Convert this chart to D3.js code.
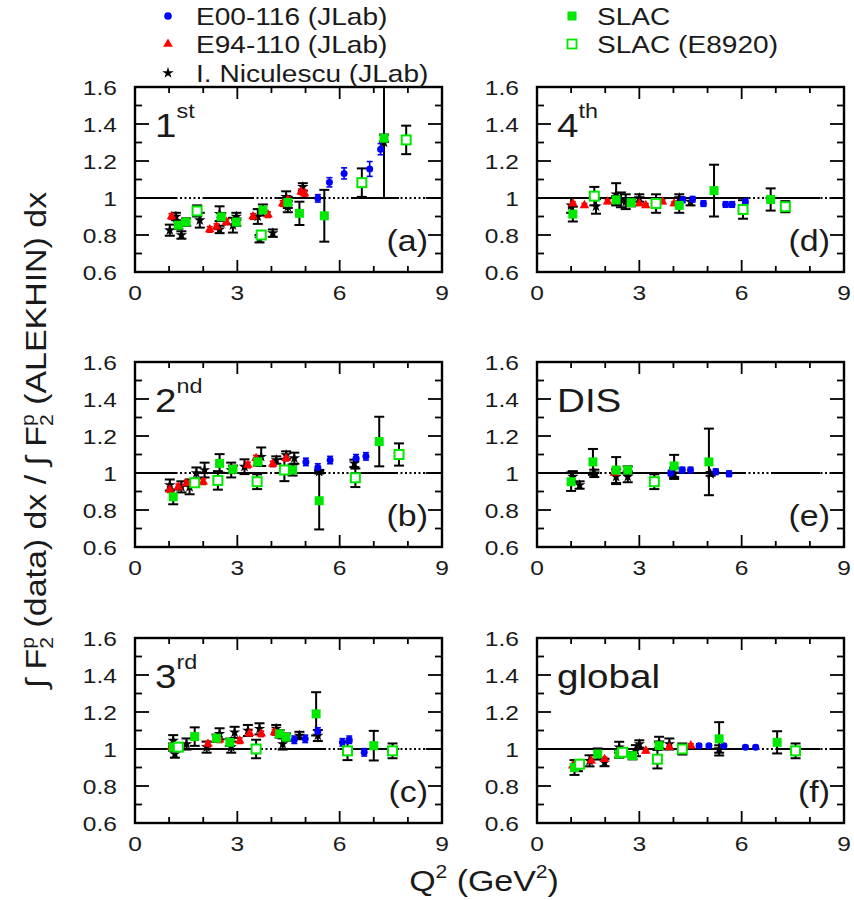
<!DOCTYPE html>
<html>
<head>
<meta charset="utf-8">
<script src="https://cdn.jsdelivr.net/npm/d3@7"></script>
<style>
  body { margin: 0; background: #fff; }
  svg { display: block; font-family: "Liberation Sans", Arial, sans-serif; }
</style>
</head>
<body>
<svg id="chart" width="854" height="900"></svg>
<script>
// panels, in reading order of the figure
var panelKeys = ["a", "b", "c", "d", "e", "f"];
var panelMain = ["1", "2", "3", "4", "DIS", "global"];
var panelSup  = ["st", "nd", "rd", "th", "", ""];

var xTicks = [0, 3, 6, 9];
var yTicks = [0.6, 0.8, 1, 1.2, 1.4, 1.6];

// each point: [panel, Q2, ratio, error]
var e00116 = [
    ["a", 5.36, 0.998, 0.02], ["a", 5.70, 1.085, 0.025], ["a", 6.13, 1.133, 0.03], ["a", 6.88, 1.157, 0.04], ["a", 7.20, 1.264, 0.03],
    ["b", 5.01, 1.06, 0.02], ["b", 5.36, 1.03, 0.02], ["b", 5.72, 1.07, 0.02], ["b", 6.48, 1.08, 0.02], ["b", 6.77, 1.09, 0.02],
    ["c", 4.67, 1.05, 0.02], ["c", 4.99, 1.055, 0.02], ["c", 5.36, 1.095, 0.02], ["c", 6.08, 1.036, 0.02], ["c", 6.28, 1.05, 0.02], ["c", 6.72, 0.982, 0.02],
    ["d", 4.27, 0.99, 0.015], ["d", 4.56, 0.993, 0.015], ["d", 4.88, 0.97, 0.015], ["d", 5.53, 0.965, 0.015], ["d", 5.72, 0.965, 0.015], ["d", 6.11, 0.98, 0.015],
    ["e", 3.92, 1.0, 0.015], ["e", 4.26, 1.016, 0.015], ["e", 4.50, 1.016, 0.015], ["e", 5.24, 1.007, 0.015], ["e", 5.63, 0.996, 0.015],
    ["f", 4.75, 1.018, 0.01], ["f", 5.04, 1.018, 0.01], ["f", 5.48, 1.018, 0.01], ["f", 6.11, 1.009, 0.01], ["f", 6.41, 1.009, 0.01]
];

var e94110 = [
    ["a", 1.07, 0.90, 0.015], ["a", 2.19, 0.83, 0.015], ["a", 2.39, 0.845, 0.015], ["a", 2.68, 0.87, 0.015], ["a", 3.46, 0.90, 0.015],
    ["a", 3.90, 0.91, 0.015], ["a", 4.33, 0.97, 0.015], ["a", 4.48, 0.99, 0.015], ["a", 4.87, 1.034, 0.015], ["a", 4.97, 1.025, 0.015],
    ["b", 1.02, 0.91, 0.015], ["b", 1.27, 0.925, 0.015], ["b", 1.51, 0.944, 0.015], ["b", 2.00, 0.953, 0.015], ["b", 3.31, 1.043, 0.015],
    ["b", 3.55, 1.08, 0.015], ["b", 4.04, 1.049, 0.015], ["b", 4.43, 1.08, 0.015],
    ["c", 1.07, 1.01, 0.015], ["c", 2.14, 1.027, 0.015], ["c", 2.48, 1.05, 0.015], ["c", 3.07, 1.045, 0.015], ["c", 3.36, 1.085, 0.015],
    ["c", 3.70, 1.082, 0.015], ["c", 4.09, 1.09, 0.015],
    ["d", 1.05, 0.97, 0.01], ["d", 1.39, 0.96, 0.01], ["d", 2.07, 0.98, 0.01], ["d", 3.00, 0.97, 0.01], ["d", 3.19, 0.96, 0.01],
    ["d", 3.68, 0.98, 0.01], ["d", 4.02, 0.97, 0.01],
    ["e", 2.27, 1.0, 0.01],
    ["f", 1.05, 0.91, 0.01], ["f", 1.59, 0.936, 0.01], ["f", 1.98, 0.945, 0.01], ["f", 3.19, 0.99, 0.01], ["f", 3.88, 1.009, 0.01], ["f", 4.51, 1.018, 0.01]
];

var niculescu = [
    ["a", 1.02, 0.826, 0.03], ["a", 1.36, 0.80, 0.02], ["a", 1.20, 0.90, 0.02], ["a", 1.90, 0.88, 0.04], ["a", 2.48, 0.915, 0.04],
    ["a", 2.48, 0.83, 0.02], ["a", 2.87, 0.853, 0.04], ["a", 2.97, 0.90, 0.02], ["a", 3.60, 0.90, 0.04], ["a", 3.65, 0.78, 0.02],
    ["a", 4.04, 0.81, 0.02], ["a", 4.43, 1.006, 0.03], ["a", 4.48, 0.953, 0.03], ["a", 4.92, 1.06, 0.02], ["a", 7.30, 1.30, 0.30],
    ["b", 1.02, 0.935, 0.03], ["b", 1.36, 0.925, 0.03], ["b", 1.60, 0.925, 0.04], ["b", 1.80, 1.0, 0.03], ["b", 2.04, 1.016, 0.04],
    ["b", 2.82, 1.016, 0.04], ["b", 3.21, 1.034, 0.04], ["b", 3.70, 1.088, 0.05], ["b", 4.14, 1.07, 0.02], ["b", 4.43, 1.097, 0.02],
    ["b", 4.67, 1.08, 0.03], ["b", 5.40, 1.007, 0.01], ["b", 6.43, 1.052, 0.02],
    ["c", 1.12, 1.045, 0.03], ["c", 1.17, 0.973, 0.02], ["c", 1.51, 1.027, 0.03], ["c", 2.10, 1.01, 0.03], ["c", 2.48, 1.082, 0.03],
    ["c", 2.82, 1.01, 0.03], ["c", 2.92, 1.09, 0.03], ["c", 3.31, 1.10, 0.03], ["c", 3.65, 1.109, 0.03], ["c", 4.14, 1.11, 0.02],
    ["c", 4.33, 1.027, 0.03], ["c", 4.82, 1.073, 0.02], ["c", 5.36, 1.073, 0.03],
    ["d", 1.00, 0.96, 0.04], ["d", 1.73, 0.955, 0.04], ["d", 2.32, 1.02, 0.06], ["d", 2.46, 0.99, 0.04], ["d", 2.60, 0.98, 0.04],
    ["d", 3.00, 1.0, 0.02], ["d", 4.17, 1.0, 0.02], ["d", 4.50, 0.98, 0.02],
    ["e", 1.05, 0.98, 0.03], ["e", 1.25, 0.935, 0.02], ["e", 1.68, 0.998, 0.02], ["e", 2.32, 0.98, 0.04], ["e", 2.66, 0.98, 0.03],
    ["e", 4.02, 0.998, 0.03], ["e", 5.09, 0.995, 0.01],
    ["f", 1.20, 0.91, 0.03], ["f", 1.54, 0.936, 0.03], ["f", 1.98, 0.927, 0.02], ["f", 2.41, 1.009, 0.03], ["f", 2.90, 0.991, 0.03],
    ["f", 3.00, 1.027, 0.02], ["f", 3.58, 1.036, 0.03], ["f", 3.88, 1.027, 0.03], ["f", 5.34, 1.0, 0.02]
];

var slac = [
    ["a", 1.27, 0.853, 0.02], ["a", 1.50, 0.87, 0.02], ["a", 2.53, 0.898, 0.02], ["a", 2.97, 0.87, 0.02], ["a", 3.75, 0.935, 0.03],
    ["a", 4.48, 0.976, 0.03], ["a", 4.82, 0.917, 0.063], ["a", 5.55, 0.904, 0.14], ["a", 7.30, 1.323, 0.02],
    ["b", 1.12, 0.871, 0.04], ["b", 2.48, 1.052, 0.05], ["b", 2.87, 1.02, 0.02], ["b", 3.60, 1.06, 0.02], ["b", 4.62, 1.016, 0.03],
    ["b", 5.40, 0.85, 0.155], ["b", 7.16, 1.17, 0.134],
    ["c", 1.12, 1.01, 0.02], ["c", 1.75, 1.067, 0.05], ["c", 2.39, 1.058, 0.02], ["c", 2.78, 1.036, 0.02], ["c", 4.24, 1.082, 0.02],
    ["c", 4.43, 1.064, 0.02], ["c", 5.31, 1.19, 0.117], ["c", 7.00, 1.018, 0.08],
    ["d", 1.05, 0.913, 0.04], ["d", 2.32, 0.99, 0.02], ["d", 2.76, 0.975, 0.02], ["d", 4.17, 0.96, 0.04], ["d", 5.19, 1.04, 0.14], ["d", 6.85, 0.992, 0.06],
    ["e", 1.00, 0.953, 0.05], ["e", 1.64, 1.06, 0.07], ["e", 2.32, 1.016, 0.07], ["e", 2.66, 1.016, 0.02], ["e", 4.02, 1.038, 0.06], ["e", 5.04, 1.06, 0.18],
    ["f", 1.10, 0.90, 0.04], ["f", 1.78, 0.973, 0.03], ["f", 2.41, 0.973, 0.02], ["f", 2.80, 0.964, 0.02], ["f", 3.58, 1.018, 0.02],
    ["f", 5.34, 1.055, 0.09], ["f", 7.04, 1.036, 0.06]
];

var slacE8920 = [
    ["a", 1.82, 0.93, 0.03], ["a", 3.70, 0.80, 0.02], ["a", 6.65, 1.083, 0.077], ["a", 7.95, 1.314, 0.077],
    ["b", 1.75, 0.947, 0.02], ["b", 2.43, 0.96, 0.05], ["b", 3.58, 0.953, 0.04], ["b", 4.38, 1.016, 0.06], ["b", 6.46, 0.974, 0.05], ["b", 7.74, 1.10, 0.06],
    ["c", 1.27, 1.01, 0.02], ["c", 3.55, 1.0, 0.05], ["c", 6.23, 0.99, 0.05], ["c", 7.55, 0.99, 0.04],
    ["d", 1.68, 1.01, 0.05], ["d", 3.49, 0.97, 0.05], ["d", 6.04, 0.938, 0.05], ["d", 7.28, 0.953, 0.03],
    ["e", 3.44, 0.953, 0.04],
    ["f", 1.25, 0.918, 0.02], ["f", 2.51, 0.982, 0.02], ["f", 3.53, 0.945, 0.05], ["f", 4.26, 1.0, 0.03], ["f", 7.58, 0.99, 0.04]
];

// solid parts of the unity line, the rest is dotted
var solidParts = [
    ["a", 0, 1.22], ["a", 2.0, 3.46], ["a", 4.14, 5.55], ["a", 6.38, 7.74], ["a", 8.52, 9],
    ["b", 0, 1.2], ["b", 1.7, 3.85], ["b", 4.1, 5.5], ["b", 6.4, 7.65], ["b", 8.52, 9],
    ["c", 0, 3.75], ["c", 4.2, 5.6], ["c", 6.0, 7.75], ["c", 8.52, 9],
    ["d", 0, 6.2], ["d", 6.7, 8.3], ["d", 8.65, 9],
    ["e", 0, 1.83], ["e", 2.3, 6.1], ["e", 6.9, 8.3], ["e", 8.65, 9],
    ["f", 0, 6.5], ["f", 7.0, 8.3], ["f", 8.65, 9]
];

var legendLeft  = ["E00-116 (JLab)", "E94-110 (JLab)", "I. Niculescu (JLab)"];
var legendRight = ["SLAC", "SLAC (E8920)"];

var SX = 1.17;   // the figure's lettering is a bit wide
var green = "#00e800";

var svg = d3.select("#chart");

function stretchedText(g, x, y, size, anchor) {
    return g.append("text")
        .attr("transform", "translate(" + x + "," + y + ") scale(" + SX + ",1)")
        .attr("font-size", size)
        .attr("text-anchor", anchor || "start")
        .attr("fill", "#1a1a1a");
}

var colX = [135, 537], rowY = [87, 362, 638];
var pw = 307, ph = 185;

var x = d3.scaleLinear().domain([0, 9]).range([0, pw]);
var y = d3.scaleLinear().domain([0.6, 1.6]).range([ph, 0]);

var triangle = d3.symbol().type(d3.symbolTriangle).size(40);
var star = d3.symbol().type(d3.symbolStar).size(40);

function errorBar(g, d, color, cap, width) {
    var cx = x(d[1]);
    var lo = y(d[2] - d[3]), hi = y(d[2] + d[3]);
    g.append("line").attr("x1", cx).attr("x2", cx).attr("y1", lo).attr("y2", hi)
        .attr("stroke", color).attr("stroke-width", width);
    [lo, hi].forEach(function(v) {
        g.append("line").attr("x1", cx - cap).attr("x2", cx + cap).attr("y1", v).attr("y2", v)
            .attr("stroke", color).attr("stroke-width", width);
    });
}

panelKeys.forEach(function(key, i) {
    var col = i < 3 ? 0 : 1, row = i % 3;
    var g = svg.append("g").attr("transform", "translate(" + colX[col] + "," + rowY[row] + ")");

    g.append("clipPath").attr("id", "clip" + key)
        .append("rect").attr("width", pw).attr("height", ph);

    var plot = g.append("g").attr("clip-path", "url(#clip" + key + ")");

    // unity line: dotted underneath, solid pieces on top
    plot.append("line").attr("x1", 0).attr("x2", pw).attr("y1", y(1)).attr("y2", y(1))
        .attr("stroke", "#000").attr("stroke-width", 1.8).attr("stroke-dasharray", "2,2.5");
    solidParts.filter(function(s) { return s[0] === key; }).forEach(function(s) {
        plot.append("line").attr("x1", x(s[1])).attr("x2", x(s[2])).attr("y1", y(1)).attr("y2", y(1))
            .attr("stroke", "#000").attr("stroke-width", 1.8);
    });

    var pick = function(arr) { return arr.filter(function(d) { return d[0] === key; }); };

    pick(niculescu).forEach(function(d) { errorBar(plot, d, "#000", 5, 2); });
    pick(slac).forEach(function(d) { errorBar(plot, d, "#000", 5, 2); });
    pick(slacE8920).forEach(function(d) { errorBar(plot, d, "#000", 5, 2); });
    pick(e94110).forEach(function(d) { errorBar(plot, d, "#e00000", 3, 1.6); });
    pick(e00116).forEach(function(d) { errorBar(plot, d, "#0000ee", 3, 1.6); });

    plot.selectAll(".nic").data(pick(niculescu)).enter().append("path")
        .attr("d", star).attr("fill", "#000")
        .attr("transform", function(d) { return "translate(" + x(d[1]) + "," + y(d[2]) + ")"; });
    plot.selectAll(".tri").data(pick(e94110)).enter().append("path")
        .attr("d", triangle).attr("fill", "#ff0000")
        .attr("transform", function(d) { return "translate(" + x(d[1]) + "," + y(d[2]) + ")"; });
    plot.selectAll(".dot").data(pick(e00116)).enter().append("circle")
        .attr("r", 3.5).attr("fill", "#0000ff")
        .attr("cx", function(d) { return x(d[1]); })
        .attr("cy", function(d) { return y(d[2]); });
    plot.selectAll(".sq").data(pick(slac)).enter().append("rect")
        .attr("width", 9).attr("height", 9).attr("fill", green)
        .attr("x", function(d) { return x(d[1]) - 4.5; })
        .attr("y", function(d) { return y(d[2]) - 4.5; });
    plot.selectAll(".osq").data(pick(slacE8920)).enter().append("rect")
        .attr("width", 9).attr("height", 9).attr("fill", "#fff")
        .attr("stroke", green).attr("stroke-width", 2)
        .attr("x", function(d) { return x(d[1]) - 4.5; })
        .attr("y", function(d) { return y(d[2]) - 4.5; });

    // ticks on all four sides
    var ticks = g.append("g").attr("stroke", "#000").attr("stroke-width", 1.8);
    d3.range(0, 10).forEach(function(t) {
        var len = t % 3 === 0 ? 12 : 6;
        ticks.append("line").attr("x1", x(t)).attr("x2", x(t)).attr("y1", ph).attr("y2", ph - len);
        ticks.append("line").attr("x1", x(t)).attr("x2", x(t)).attr("y1", 0).attr("y2", len);
    });
    d3.range(6, 17).forEach(function(t) {
        var len = t % 2 === 0 ? 14 : 7;
        ticks.append("line").attr("x1", 0).attr("x2", len).attr("y1", y(t / 10)).attr("y2", y(t / 10));
        ticks.append("line").attr("x1", pw).attr("x2", pw - len).attr("y1", y(t / 10)).attr("y2", y(t / 10));
    });

    g.append("rect").attr("width", pw).attr("height", ph)
        .attr("fill", "none").attr("stroke", "#000").attr("stroke-width", 2.4);

    yTicks.forEach(function(t) {
        stretchedText(g, -18, y(t) + 7.5, 21, "end").text(d3.format("")(t));
    });
    xTicks.forEach(function(t) {
        stretchedText(g, x(t), ph + 28, 21, "middle").text(t);
    });

    var lab = stretchedText(g, 20, 50, 33, "start");
    lab.append("tspan").text(panelMain[i]);
    if (panelSup[i]) lab.append("tspan").attr("font-size", 20).attr("dy", -19).text(panelSup[i]);

    stretchedText(g, pw - 14, 164, 29, "end").text("(" + key + ")");
});

// axis titles
var yt = svg.append("text")
    .attr("transform", "translate(46,440) rotate(-90) scale(" + SX + ",1)")
    .attr("font-size", 29).attr("text-anchor", "middle").attr("fill", "#1a1a1a");
yt.append("tspan").text("\u222B F");
yt.append("tspan").attr("font-size", 18).attr("dy", 7).text("2");
yt.append("tspan").attr("font-size", 18).attr("dx", -10).attr("dy", -19).text("p");
yt.append("tspan").attr("dy", 12).text(" (data) dx / \u222B F");
yt.append("tspan").attr("font-size", 18).attr("dy", 7).text("2");
yt.append("tspan").attr("font-size", 18).attr("dx", -10).attr("dy", -19).text("p");
yt.append("tspan").attr("dy", 12).text(" (ALEKHIN) dx");

var xt = stretchedText(svg, 484, 891, 29, "middle");
xt.append("tspan").text("Q");
xt.append("tspan").attr("font-size", 18).attr("dy", -13).text("2");
xt.append("tspan").attr("dy", 13).text(" (GeV");
xt.append("tspan").attr("font-size", 18).attr("dy", -13).text("2");
xt.append("tspan").attr("dy", 13).text(")");

// legend
var legY = [16, 44, 73];
legendLeft.forEach(function(name, i) {
    var cx = 168, cy = legY[i];
    if (i === 0) svg.append("circle").attr("cx", cx).attr("cy", cy).attr("r", 3.8).attr("fill", "#0000ff");
    if (i === 1) svg.append("path").attr("d", triangle).attr("fill", "#ff0000").attr("transform", "translate(" + cx + "," + cy + ")");
    if (i === 2) svg.append("path").attr("d", star).attr("fill", "#000").attr("transform", "translate(" + cx + "," + cy + ")");
    stretchedText(svg, 196, cy + 8.5, 24, "start").text(name);
});
legendRight.forEach(function(name, i) {
    var cx = 572, cy = legY[i];
    svg.append("rect").attr("x", cx - 4.5).attr("y", cy - 4.5).attr("width", 9).attr("height", 9)
        .attr("fill", i === 0 ? green : "#fff").attr("stroke", green).attr("stroke-width", i === 0 ? 0 : 1.8);
    stretchedText(svg, 597, cy + 8.5, 24, "start").text(name);
});
</script>
</body>
</html>
